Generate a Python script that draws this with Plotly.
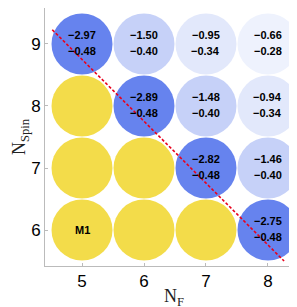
import plotly.graph_objects as go

# ---- data ----
n_f = [5, 6, 7, 8]
n_spin = [6, 7, 8, 9]
# values per (N_Spin row, N_F column); None = no value (yellow cell)
top_vals = {
    9: [-2.97, -1.50, -0.95, -0.66],
    8: [None, -2.89, -1.48, -0.94],
    7: [None, None, -2.82, -1.46],
    6: [None, None, None, -2.75],
}
bottom_vals = {
    9: [-0.48, -0.40, -0.34, -0.28],
    8: [None, -0.48, -0.40, -0.34],
    7: [None, None, -0.48, -0.40],
    6: [None, None, None, -0.48],
}
label_cell = {"nf": 5, "nspin": 6, "text": "M1"}
line_x = [4.52, 8.26]
line_y = [9.23, 5.50]
x_title = "N<sub>F</sub>"
y_title = "N<sub>Spin</sub>"

# ---- styles ----
diag_colors = {0: "#6683EE", 1: "#C6D1F8", 2: "#E2E8FB", 3: "#EEF2FD"}
yellow = "#F3DC4A"


def fmt(v):
    return ("\u2212%.2f" % abs(v)) if v < 0 else "%.2f" % v


xs, ys, cols = [], [], []
annotations = []
for s in n_spin:
    for i, f in enumerate(n_f):
        xs.append(f)
        ys.append(s)
        d = f + s - 14
        cols.append(diag_colors.get(d, yellow) if d >= 0 else yellow)
        tv = top_vals[s][i]
        bv = bottom_vals[s][i]
        if tv is not None:
            annotations.append(dict(x=f, y=s, text="<b>%s</b>" % fmt(tv), showarrow=False,
                                    yshift=9, font=dict(size=11, color="black", family="Liberation Sans")))
            annotations.append(dict(x=f, y=s, text="<b>%s</b>" % fmt(bv), showarrow=False,
                                    yshift=-7, font=dict(size=11, color="black", family="Liberation Sans")))

annotations.append(dict(x=label_cell["nf"], y=label_cell["nspin"], text="<b>%s</b>" % label_cell["text"],
                        showarrow=False, font=dict(size=11, color="black", family="Liberation Sans")))

title_font = dict(size=18, family="Liberation Serif", color="#222")
annotations.append(dict(xref="paper", yref="paper", x=0.5, y=0, yshift=-31, yanchor="middle",
                        text=x_title, showarrow=False, font=title_font))
annotations.append(dict(xref="paper", yref="paper", x=0, y=0.5, xshift=-25, xanchor="center",
                        yanchor="middle", textangle=-90, text=y_title, showarrow=False, font=title_font))

fig = go.Figure()
fig.add_trace(go.Scatter(x=xs, y=ys, mode="markers",
                         marker=dict(size=61, color=cols, line=dict(width=0)),
                         hoverinfo="skip", showlegend=False))
fig.add_trace(go.Scatter(x=line_x, y=line_y, mode="lines",
                         line=dict(color="#E8001C", width=1.6, dash="3px,2px"),
                         hoverinfo="skip", showlegend=False))

axis_common = dict(showgrid=False, zeroline=False, showline=True, mirror=True,
                   linecolor="#BBBBBB", linewidth=1, ticks="inside", ticklen=3,
                   tickcolor="#BBBBBB", tickfont=dict(size=17, color="black", family="Liberation Sans"))

fig.update_layout(
    width=297, height=307,
    margin=dict(l=37, r=2, t=0, b=49),
    paper_bgcolor="white", plot_bgcolor="white",
    annotations=annotations,
    xaxis=dict(range=[4.403, 8.565], tickvals=n_f, ticktext=[str(v) for v in n_f], **axis_common),
    yaxis=dict(range=[5.42, 9.58], tickvals=n_spin, ticktext=[str(v) for v in n_spin], **axis_common),
)

fig.write_html("out.html")
